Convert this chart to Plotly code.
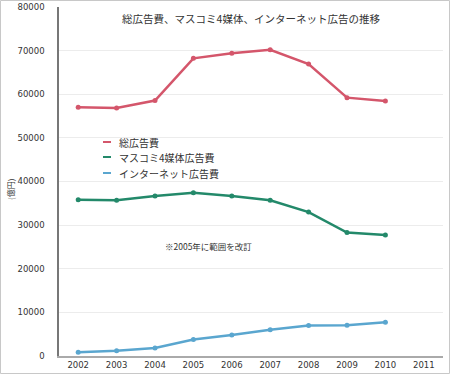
import plotly.graph_objects as go

years = ["2002", "2003", "2004", "2005", "2006", "2007", "2008", "2009", "2010", "2011"]
total_ad = [57032, 56841, 58571, 68235, 69399, 70191, 66926, 59222, 58427]
mass4_ad = [35800, 35700, 36700, 37400, 36700, 35700, 32995, 28282, 27749]
internet_ad = [845, 1183, 1814, 3777, 4826, 6003, 6983, 7069, 7747]

series_names = ["総広告費", "マスコミ4媒体広告費", "インターネット広告費"]
series_values = [total_ad, mass4_ad, internet_ad]
colors = ["#d4566b", "#23896a", "#5aa6cf"]

title_text = "総広告費、マスコミ4媒体、インターネット広告の推移"
note_text = "※2005年に範囲を改訂"
y_title = "(億円)"

FONT = "DejaVu Sans, Noto Sans CJK JP, sans-serif"
JP = "Noto Sans CJK JP, sans-serif"

W, H = 450, 374
L, R, T, B = 59, 7, 7, 18
PW, PH = W - L - R, H - T - B


def px(x):
    return (x - L) / PW


def py(y):
    return (H - B - y) / PH


fig = go.Figure()
for name, vals, c in zip(series_names, series_values, colors):
    fig.add_trace(go.Scatter(
        x=years[:len(vals)], y=vals, name=name, mode="lines+markers",
        line=dict(color=c, width=2.5), marker=dict(color=c, size=5),
        showlegend=False,
    ))

annotations = [
    dict(text=note_text, x=px(163), y=py(254), xref="paper", yref="paper", showarrow=False,
         font=dict(family=JP, size=8.5, color="#333")),
    dict(text=y_title, x=px(10), y=py(190), xref="paper", yref="paper", showarrow=False,
         xanchor="center", yanchor="middle",
         textangle=-90, font=dict(family=JP, size=8, color="#333")),
]
shapes = [
    dict(type="rect", xref="paper", yref="paper",
         x0=px(0.5), x1=px(449.5), y0=py(373.5), y1=py(0.5),
         line=dict(color="#c8c8c8", width=1), layer="below"),
]
legend_rows = [142, 157, 173]
for name, c, ry in zip(series_names, colors, legend_rows):
    shapes.append(dict(type="line", xref="paper", yref="paper",
                       x0=px(103), x1=px(111), y0=py(ry), y1=py(ry),
                       line=dict(color=c, width=2)))
    annotations.append(dict(text=name, x=px(117), y=py(ry), xref="paper", yref="paper",
                            xanchor="left", yanchor="middle", showarrow=False,
                            font=dict(family=JP, size=10, color="#333")))

fig.update_layout(
    width=W, height=H,
    margin=dict(l=L, r=R, t=T, b=B),
    paper_bgcolor="white", plot_bgcolor="white",
    font=dict(family=FONT, size=9, color="#333"),
    title=dict(text=title_text, x=251 / W, xanchor="center", y=1 - 19 / H, yanchor="middle",
               font=dict(family=JP, size=10.5, color="#333")),
    showlegend=False,
    xaxis=dict(type="category", categoryorder="array", categoryarray=years,
               range=[-0.5, 9.5], showgrid=False, showline=True, linecolor="#aaa",
               linewidth=2, tickfont=dict(family=FONT, size=8.5, color="#333"), ticks="",
               zeroline=False, automargin=False),
    yaxis=dict(range=[0, 80000], dtick=10000, tickformat="d", showgrid=True, gridcolor="#ececec",
               showline=True, linecolor="#777", linewidth=1.5, zeroline=False,
               tickfont=dict(family=FONT, size=8.5, color="#333"), ticks="",
               ticklabelstandoff=11, automargin=False),
    annotations=annotations,
    shapes=shapes,
)

fig.write_html("out.html", config={"displayModeBar": False},
               post_script="document.body.style.margin='0';document.body.style.overflow='hidden';")
